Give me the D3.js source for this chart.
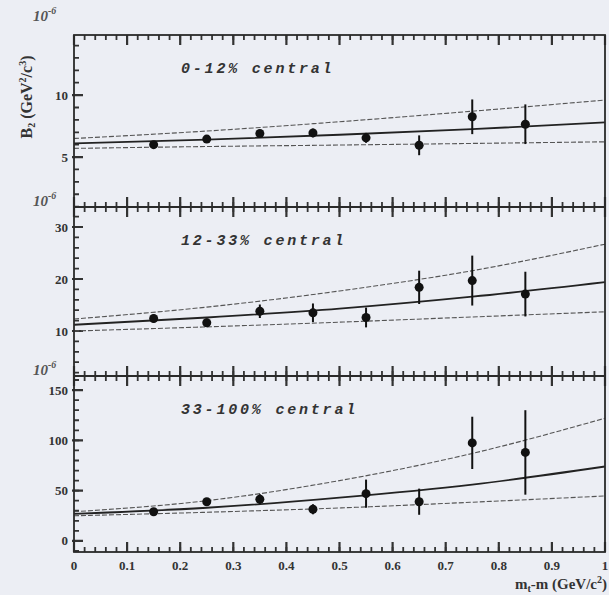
<!DOCTYPE html>
<html>
<head>
<meta charset="utf-8">
<script src="https://cdn.jsdelivr.net/npm/d3@7"></script>
<style>
  body { margin: 0; background: #eceef4; }
  svg { display: block; }
  .tick-lab { font-family: "Liberation Serif", "DejaVu Serif", serif; font-weight: bold; font-size: 13px; fill: #333; }
  .cent { font-family: "Liberation Mono", "DejaVu Sans Mono", monospace; font-weight: bold; font-style: italic; font-size: 15px; letter-spacing: 2.8px; fill: #333; }
  .expo { font-family: "Liberation Serif", serif; font-style: italic; font-weight: bold; font-size: 15px; fill: #555; }
</style>
</head>
<body>
<svg id="chart" width="609" height="595"></svg>
<script>
// data
var mtBins = [0.15, 0.25, 0.35, 0.45, 0.55, 0.65, 0.75, 0.85];
var panelNames = ["0-12% central", "12-33% central", "33-100% central"];

var b2Central = [6.0, 6.45, 6.9, 6.95, 6.55, 5.95, 8.25, 7.65];
var b2CentralErr = [0.3, 0.3, 0.3, 0.35, 0.4, 0.8, 1.4, 1.6];
var b2Mid = [12.4, 11.6, 13.8, 13.5, 12.6, 18.4, 19.7, 17.1];
var b2MidErr = [0.8, 0.8, 1.3, 1.8, 1.9, 3.2, 4.8, 4.3];
var b2Periph = [29, 39, 41.5, 31.5, 47, 39, 97.5, 88];
var b2PeriphErr = [3, 3, 5, 5, 14, 13, 26, 42];

// fit curves, sampled at these mt-m values
var fitX = [0, 0.25, 0.5, 0.75, 1.0];
var fitCentral = [6.1, 6.4, 6.8, 7.25, 7.8];
var fitCentralHi = [6.5, 7.1, 7.85, 8.7, 9.6];
var fitCentralLo = [5.7, 5.85, 5.97, 6.1, 6.23];
var fitMid = [11.2, 12.6, 14.3, 16.6, 19.4];
var fitMidHi = [12.3, 14.6, 17.7, 21.6, 26.7];
var fitMidLo = [10.0, 10.8, 11.7, 12.7, 13.7];
var fitPeriph = [27, 33, 43, 56, 74];
var fitPeriphHi = [29, 40, 60, 87, 122];
var fitPeriphLo = [25, 28.5, 32.8, 38.5, 44.7];

var xTicks = [0, 0.1, 0.2, 0.3, 0.4, 0.5, 0.6, 0.7, 0.8, 0.9, 1];
var xTickLabels = ["0", "0.1", "0.2", "0.3", "0.4", "0.5", "0.6", "0.7", "0.8", "0.9", "1"];

var panels = [
  {name: panelNames[0], y: b2Central, err: b2CentralErr, fit: fitCentral, hi: fitCentralHi, lo: fitCentralLo,
   domain: [0.97, 14.85], major: [5, 10], minorStep: 1, top: 35, bottom: 207},
  {name: panelNames[1], y: b2Mid, err: b2MidErr, fit: fitMid, hi: fitMidHi, lo: fitMidLo,
   domain: [1.35, 33.85], major: [10, 20, 30], minorStep: 2, top: 207, bottom: 376},
  {name: panelNames[2], y: b2Periph, err: b2PeriphErr, fit: fitPeriph, hi: fitPeriphHi, lo: fitPeriphLo,
   domain: [-11, 164], major: [0, 50, 100, 150], minorStep: 10, top: 376, bottom: 552}
];

var svg = d3.select("#chart");
var left = 74, right = 605;
var x = d3.scaleLinear().domain([0, 1]).range([left, right]);

svg.append("rect").attr("width", 609).attr("height", 595).attr("fill", "#eceef4");

var line = d3.line().curve(d3.curveMonotoneX);

// tick marks as one path per set, pointing inwards
function tickPath(g, vals, scale, at, len, width, horiz) {
  var d = vals.map(function(v) {
    var p = scale(v);
    return horiz ? "M" + at + "," + p + "h" + len : "M" + p + "," + at + "v" + len;
  }).join("");
  g.append("path").attr("class", "tk").attr("d", d).attr("fill", "none")
    .attr("stroke", "#333").attr("stroke-width", width);
}

panels.forEach(function(p, pi) {
  var y = d3.scaleLinear().domain(p.domain).range([p.bottom, p.top]);
  var g = svg.append("g");

  // x ticks on top and bottom edges
  var xMinor = d3.range(0, 1.0001, 0.02);
  tickPath(g, xMinor, x, p.bottom, -5, 1.8, false);
  tickPath(g, xTicks, x, p.bottom, -10, 2.2, false);
  tickPath(g, xMinor, x, p.top, 5, 1.8, false);
  tickPath(g, xTicks, x, p.top, 10, 2.2, false);

  // y ticks on left edge
  var yMinor = d3.range(Math.ceil(p.domain[0] / p.minorStep) * p.minorStep, p.domain[1], p.minorStep);
  tickPath(g, yMinor, y, left, 5, 1.8, true);
  tickPath(g, p.major, y, left - 2, 11, 2.2, true);

  g.selectAll(null).data(p.major).enter().append("text")
    .attr("class", "tick-lab").attr("x", left - 6).attr("y", function(d) { return y(d); })
    .attr("dy", "0.35em").attr("text-anchor", "end").text(d3.format("d"));

  // fit curves
  var pts = function(arr) { return fitX.map(function(v, i) { return [x(v), y(arr[i])]; }); };
  g.append("path").attr("d", line(pts(p.hi))).attr("fill", "none")
    .attr("stroke", "#555").attr("stroke-width", 1.1).attr("stroke-dasharray", "5,2");
  g.append("path").attr("d", line(pts(p.lo))).attr("fill", "none")
    .attr("stroke", "#555").attr("stroke-width", 1.1).attr("stroke-dasharray", "5,2");
  g.append("path").attr("d", line(pts(p.fit))).attr("fill", "none")
    .attr("stroke", "#222").attr("stroke-width", 1.8);

  // data points with error bars
  g.selectAll("line.err").data(mtBins).enter().append("line")
    .attr("class", "err")
    .attr("x1", function(d) { return x(d); }).attr("x2", function(d) { return x(d); })
    .attr("y1", function(d, i) { return y(p.y[i] - p.err[i]); })
    .attr("y2", function(d, i) { return y(p.y[i] + p.err[i]); })
    .attr("stroke", "#111").attr("stroke-width", 2);
  g.selectAll("circle").data(mtBins).enter().append("circle")
    .attr("cx", function(d) { return x(d); })
    .attr("cy", function(d, i) { return y(p.y[i]); })
    .attr("r", 4.5).attr("fill", "#111");

  // centrality label and exponent
  g.append("text").attr("class", "cent").attr("x", 181).attr("y", p.top + 38).text(p.name);
  g.append("text").attr("class", "expo").attr("x", 33).attr("y", p.top - (pi == 0 ? 14 : 1))
    .text("10").append("tspan").attr("dy", -7).attr("font-size", "10px").text("-6");
});

// frame
svg.append("rect").attr("x", left).attr("y", 35).attr("width", right - left).attr("height", 552 - 35)
  .attr("fill", "none").attr("stroke", "#2a2a2a").attr("stroke-width", 1.8);
[207, 376].forEach(function(yy) {
  svg.append("line").attr("x1", left).attr("x2", right).attr("y1", yy).attr("y2", yy)
    .attr("stroke", "#2a2a2a").attr("stroke-width", 1.8);
});

// x tick labels
svg.selectAll("text.xl").data(xTicks).enter().append("text")
  .attr("class", "tick-lab").attr("x", function(d) { return x(d); }).attr("y", 570)
  .attr("text-anchor", "middle").text(function(d, i) { return xTickLabels[i]; });

// axis titles
var xt = svg.append("text").attr("class", "tick-lab").style("font-size", "15px")
  .attr("x", 607).attr("y", 589).attr("text-anchor", "end");
xt.append("tspan").text("m");
xt.append("tspan").attr("font-size", "10px").attr("dy", 3).text("t");
xt.append("tspan").attr("dy", -3).text("-m (GeV/c");
xt.append("tspan").attr("font-size", "10px").attr("dy", -6).text("2");
xt.append("tspan").attr("dy", 6).text(")");

var yt = svg.append("text").attr("class", "tick-lab").style("font-size", "16px")
  .attr("transform", "translate(32,97) rotate(-90)").attr("text-anchor", "middle");
yt.append("tspan").text("B");
yt.append("tspan").attr("font-size", "10px").attr("dy", 3).text("2");
yt.append("tspan").attr("dy", -3).text(" (GeV");
yt.append("tspan").attr("font-size", "10px").attr("dy", -6).text("2");
yt.append("tspan").attr("dy", 6).text("/c");
yt.append("tspan").attr("font-size", "10px").attr("dy", -6).text("3");
yt.append("tspan").attr("dy", 6).text(")");
</script>
</body>
</html>
